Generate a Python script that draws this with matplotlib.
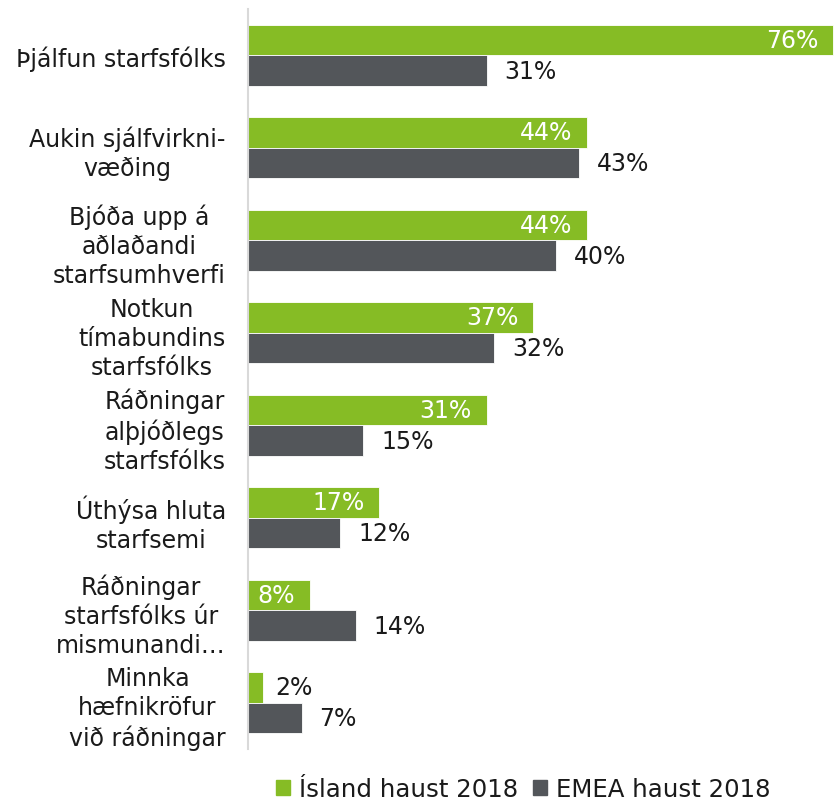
import numpy as np
import matplotlib
matplotlib.use("Agg")
import matplotlib.pyplot as plt
from matplotlib.patches import Patch

# --- data ---
categories = [
    "Þjálfun starfsfólks",
    "Aukin sjálfvirkni-\nvæðing",
    "Bjóða upp á\naðlaðandi\nstarfsumhverfi",
    "Notkun\ntímabundins\nstarfsfólks",
    "Ráðningar\nalþjóðlegs\nstarfsfólks",
    "Úthýsa hluta\nstarfsemi",
    "Ráðningar\nstarfsfólks úr\nmismunandi…",
    "Minnka\nhæfnikröfur\nvið ráðningar",
]
island = [76, 44, 44, 37, 31, 17, 8, 2]
emea = [31, 43, 40, 32, 15, 12, 14, 7]
series_names = ["Ísland haust 2018", "EMEA haust 2018"]

GREEN = "#86bc25"
GRAY = "#53565a"
TXT = "#1a1a1a"

plt.rcParams['font.family'] = 'DejaVu Sans'

fig = plt.figure(figsize=(8.36, 8.03), dpi=100)
ax = fig.add_axes([248 / 836, 1 - 750 / 803, 588 / 836, 740 / 803])

y = np.arange(len(categories))
h = 0.33
ax.barh(y - h / 2, island, height=h, color=GREEN, edgecolor="white", linewidth=0.6)
ax.barh(y + h / 2, emea, height=h, color=GRAY, edgecolor="white", linewidth=0.6)

ax.set_ylim(len(categories) - 0.5, -0.5)
ax.set_xlim(0, 76.4)

fs = 17
for yi, v in zip(y, island):
    if v >= 5:
        ax.text(v - 1.9, yi - h / 2, f"{v}%", ha="right", va="center", color="white", fontsize=fs)
    else:
        ax.text(v + 1.5, yi - h / 2, f"{v}%", ha="left", va="center", color=TXT, fontsize=fs)
for yi, v in zip(y, emea):
    ax.text(v + 2.3, yi + h / 2, f"{v}%", ha="left", va="center", color=TXT, fontsize=fs)

ax.set_yticks(y)
ax.set_yticklabels(categories, fontsize=17, color=TXT, multialignment="center", linespacing=1.28)
ax.tick_params(axis="y", length=0, pad=16)
ax.set_xticks([])
for s in ["top", "right", "bottom"]:
    ax.spines[s].set_visible(False)
ax.spines["left"].set_color("#d9d9d9")
ax.spines["left"].set_linewidth(1.5)

handles = [Patch(color=GREEN), Patch(color=GRAY)]
fig.legend(handles, series_names, loc="center", bbox_to_anchor=(523 / 836, 1 - 790 / 803),
           ncol=2, frameon=False, fontsize=17.6, handlelength=0.6, handleheight=0.6,
           handletextpad=0.35, columnspacing=0.6, labelcolor=TXT)

fig.savefig("out.png", dpi=100)
